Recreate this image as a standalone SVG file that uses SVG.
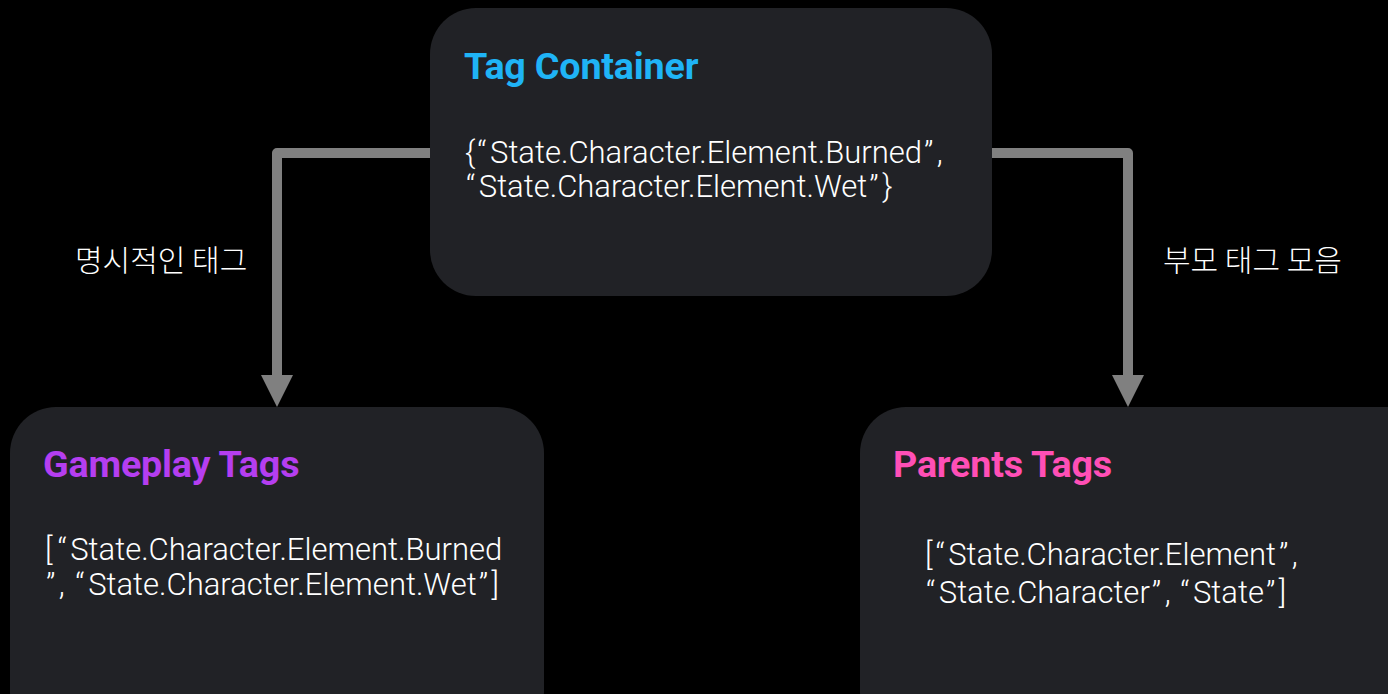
<svg xmlns="http://www.w3.org/2000/svg" width="1388" height="694" viewBox="0 0 1388 694">
  <style>
    .box { fill: #212226; }
    .title { font-family: Roboto, "Liberation Sans", sans-serif; font-weight: 700; font-size: 37.7px; letter-spacing: -0.2px; }
    .body { font-family: Roboto, "Liberation Sans", sans-serif; font-weight: 300; font-size: 31px; fill: #ffffff; }
    .q { letter-spacing: 3.5px; }
    .label { font-family: "Noto Sans CJK KR", "Noto Sans", sans-serif; font-weight: 300; font-size: 30px; fill: #ffffff; }
    .wire { fill: none; stroke: #808080; stroke-width: 10; stroke-linejoin: round; }
    .head { fill: #808080; }
  </style>
  <rect width="1388" height="694" fill="#000000"/>

  <g id="connectors">
    <path class="wire" d="M432 153 H277 V376"/>
    <path class="head" d="M261 375 L293 375 L277 407 Z"/>
    <path class="wire" d="M990 153 H1128 V376"/>
    <path class="head" d="M1112 375 L1144 375 L1128 407 Z"/>
    <text class="label" x="75" y="271">명시적인 태그</text>
    <text class="label" x="1163" y="271">부모 태그 모음</text>
  </g>

  <g id="tag-container">
    <rect class="box" x="430" y="8" width="562" height="288" rx="46"/>
    <text class="title" x="464" y="79" fill="#1fb4f6">Tag Container</text>
    <text class="body" x="465" y="163">{<tspan class="q" dx="2">“</tspan>State.Character.Element.Burned<tspan class="q" dx="2">”</tspan>,</text>
    <text class="body" x="466" y="197"><tspan class="q">“</tspan>State.Character.Element.Wet<tspan class="q" dx="2">”</tspan>}</text>
  </g>

  <g id="gameplay-tags">
    <rect class="box" x="10" y="407" width="534" height="330" rx="46"/>
    <text class="title" x="43" y="477" fill="#b53ef0">Gameplay Tags</text>
    <text class="body" x="45" y="560">[<tspan class="q" dx="5">“</tspan>State.Character.Element.Burned</text>
    <text class="body" x="46" y="595"><tspan class="q">”</tspan>, <tspan class="q" dx="3">“</tspan>State.Character.Element.Wet<tspan class="q" dx="2">”</tspan>]</text>
  </g>

  <g id="parents-tags">
    <rect class="box" x="860" y="407" width="580" height="330" rx="46"/>
    <text class="title" x="893" y="477" fill="#ff4fb6">Parents Tags</text>
    <text class="body" x="925" y="565">[<tspan class="q" dx="3">“</tspan>State.Character.Element<tspan class="q" dx="3">”</tspan>,</text>
    <text class="body" x="926" y="603"><tspan class="q">“</tspan>State.Character<tspan class="q" dx="2">”</tspan>, <tspan class="q" dx="2">“</tspan>State<tspan class="q" dx="2">”</tspan>]</text>
  </g>
</svg>
